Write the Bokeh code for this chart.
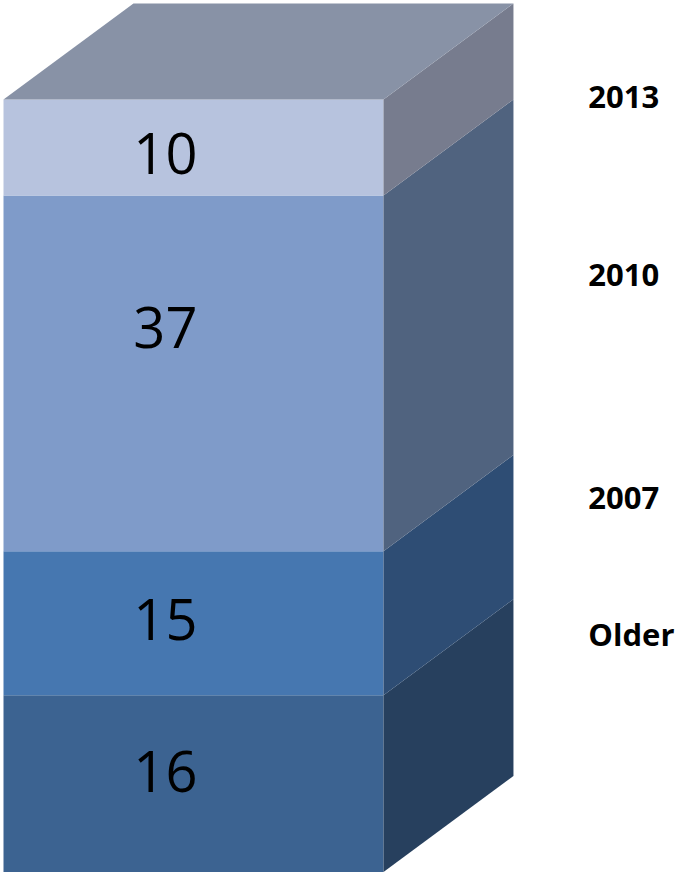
from bokeh.plotting import figure
from bokeh.models import ColumnDataSource, Range1d
from bokeh.embed import file_html
from bokeh.resources import INLINE
from bokeh.core.properties import value

# ---------------- data ----------------
categories = ["Older", "2007", "2010", "2013"]   # bottom -> top
values = [16, 15, 37, 10]

# ---------------- style ----------------
W, H = 679, 874
FLOOR = -2.4            # visual plinth below zero
DEPTH_X = 0.342         # 3D depth (x units)
DEPTH_Y = 10.0          # 3D depth (y units)
front_colors = ["#3c6391", "#4677b0", "#7f9bc9", "#b7c3de"]
side_colors = ["#27405e", "#2e4d74", "#50637f", "#777c8e"]
top_color = "#8892a6"
num_nudge = [1.3, 0.4, 4.8, -0.6]
num_x = 0.426
cat_label_x = 1.539
cat_label_y = [22.4, 36.5, 59.7, 78.3]

# ---------------- geometry from data ----------------
tops = []
acc = 0
for v in values:
    acc += v
    tops.append(acc)
bottoms = [FLOOR] + tops[:-1]

front = ColumnDataSource(dict(left=[0] * 4, right=[1] * 4, bottom=bottoms, top=tops,
                              color=front_colors))
side_xs = [[1, 1 + DEPTH_X, 1 + DEPTH_X, 1] for _ in values]
side_ys = [[b, b + DEPTH_Y, t + DEPTH_Y, t] for b, t in zip(bottoms, tops)]
side = ColumnDataSource(dict(xs=side_xs, ys=side_ys, color=side_colors))
total = tops[-1]

p = figure(width=W, height=H, x_range=Range1d(-3 / 380, 676 / 380),
           y_range=Range1d(-2.65, 88.30), output_backend="svg",
           toolbar_location=None, min_border=0,
           x_axis_location=None, y_axis_location=None)
p.grid.visible = False
p.outline_line_color = None
p.background_fill_color = "white"
p.border_fill_color = "white"

p.quad(left="left", right="right", bottom="bottom", top="top", color="color",
       line_color=None, source=front)
p.patches(xs="xs", ys="ys", color="color", line_color=None, source=side)
p.patch(x=[0, 1, 1 + DEPTH_X, DEPTH_X], y=[total, total, total + DEPTH_Y, total + DEPTH_Y],
        color=top_color, line_color=None)

num_src = ColumnDataSource(dict(
    x=[num_x] * 4,
    y=[(b + t) / 2 + n for b, t, n in zip(bottoms, tops, num_nudge)],
    text=[str(v) for v in values]))
p.text(x="x", y="y", text="text", source=num_src, text_font=value("Open Sans"),
       text_font_size="56px", text_align="center", text_baseline="middle",
       text_color="black")

cat_src = ColumnDataSource(dict(x=[cat_label_x] * 4, y=cat_label_y, text=categories))
p.text(x="x", y="y", text="text", source=cat_src, text_font=value("Open Sans"),
       text_font_size="31px", text_font_style="bold", text_align="left",
       text_baseline="middle", text_color="black")

open("out.html", "w").write(file_html(p, INLINE))
